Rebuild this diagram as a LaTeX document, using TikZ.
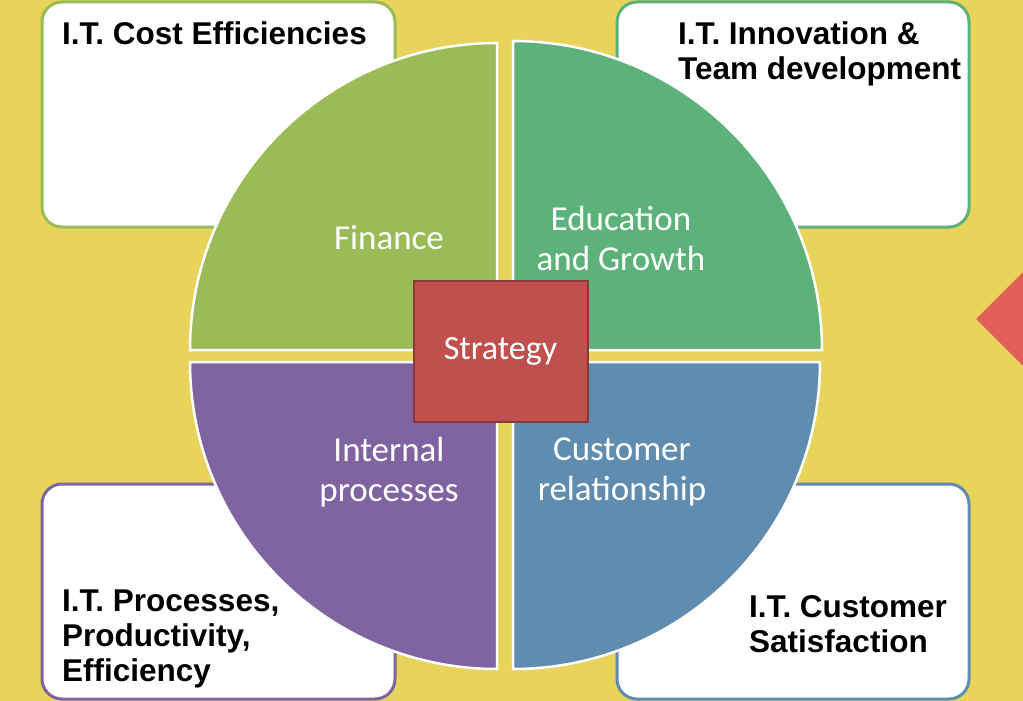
\documentclass[tikz,border=0pt]{standalone}
\usepackage{fontspec}
\setmainfont{Liberation Sans}
\newfontfamily\segfont{Carlito}
\definecolor{bgyellow}{RGB}{232,212,90}
\definecolor{finance}{RGB}{155,187,89}
\definecolor{growth}{RGB}{92,178,122}
\definecolor{internal}{RGB}{128,100,162}
\definecolor{customer}{RGB}{95,140,175}
\definecolor{strat}{RGB}{192,80,77}
\definecolor{stratedge}{RGB}{140,56,54}
\definecolor{pointer}{RGB}{224,96,86}
\begin{document}
\begin{tikzpicture}[x=1pt,y=-1pt,
  card/.style={draw=#1,fill=white,line width=3pt,rounded corners=20pt},
  cardtext/.style={inner sep=0pt,align=left,font=\bfseries\fontsize{31.5}{35}\selectfont},
  seg/.style={fill=#1,draw=white,line width=2.5pt},
  segtext/.style={text=white,align=center,font=\segfont\fontsize{35}{40}\selectfont}]
\useasboundingbox[fill=bgyellow] (0,0) rectangle (1023,701);
% cards behind the wheel
\draw[card=finance] (42,2) rectangle (395,227);
\draw[card=growth] (617,2) rectangle (969,227);
\draw[card=internal] (42,484) rectangle (395,699);
\draw[card=customer] (617,484) rectangle (969,699);
\node[cardtext,anchor=base west] (costs) at (62,45) {I.T. Cost Efficiencies};
\node[cardtext,anchor=north west] (innov) at (678,21) {I.T. Innovation \&\\Team development};
\node[cardtext,anchor=north west] (procs) at (62,590) {I.T. Processes,\\Productivity,\\Efficiency};
\node[cardtext,anchor=north west] (satis) at (749,595) {I.T. Customer\\Satisfaction};
% the four quarters
\draw[seg=finance] (497,350) -- ++(-307,0) arc[start angle=180,end angle=270,radius=307] -- cycle;
\draw[seg=growth] (513,350) -- ++(0,-309) arc[start angle=270,end angle=360,radius=309] -- cycle;
\draw[seg=internal] (497,362) -- ++(0,307) arc[start angle=90,end angle=180,radius=307] -- cycle;
\draw[seg=customer] (513,362) -- ++(307,0) arc[start angle=0,end angle=90,radius=307] -- cycle;
\node[segtext] (fin) at (389,238) {Finance};
\node[segtext] (edu) at (621,238) {Education\\and Growth};
\node[segtext] (int) at (389,472) {Internal\\processes};
\node[segtext] (cus) at (622,472) {Customer\\relationship};
% centre box
\node[draw=stratedge,fill=strat,line width=2pt,minimum width=174pt,minimum height=141pt,
  text=white,font=\segfont\fontsize{34}{40}\selectfont] (strategy) at (500.5,351) {Strategy};
% pointer at the right edge
\fill[pointer] (976,319) -- (1023,272) -- (1023,366) -- cycle;
\end{tikzpicture}
\end{document}
